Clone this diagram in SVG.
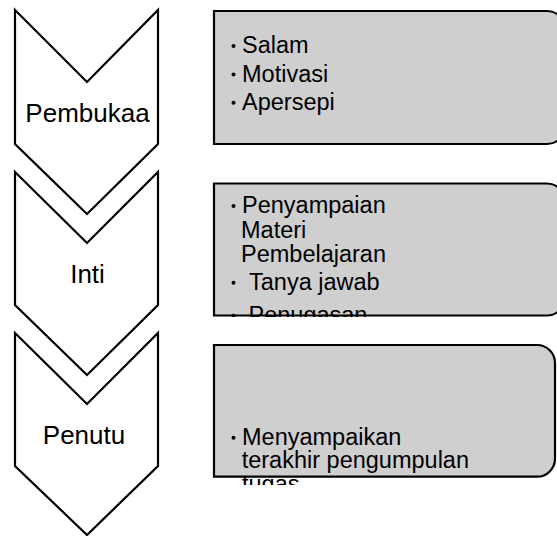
<svg xmlns="http://www.w3.org/2000/svg" width="557" height="536" viewBox="0 0 557 536">
<defs>
<style>
.chev{fill:#ffffff;stroke:#000000;stroke-width:2.2;stroke-linejoin:miter}
.box{fill:#cfcfcf;stroke:#000000;stroke-width:2.2}
.lbl{font-family:"Liberation Sans",Arial,sans-serif;font-size:26px;fill:#000;text-anchor:middle}
.txt{font-family:"Liberation Sans",Arial,sans-serif;font-size:23.5px;fill:#000}
.bul{fill:#000}
</style>
<clipPath id="clip2"><rect x="214" y="183" width="343" height="134"/></clipPath>
<clipPath id="clip3"><rect x="214" y="345" width="343" height="140"/></clipPath>
</defs>
<rect width="557" height="536" fill="#ffffff"/>
<g id="step1">
<polygon class="chev" points="15,10 87,82 158,10 158,144 87,214 15,144"/>
<text class="lbl" x="87.5" y="121.5">Pembukaa</text>
</g>
<g id="step2">
<polygon class="chev" points="15,172 87,243 158,172 158,305 87,375 15,305"/>
<text class="lbl" x="87.5" y="282.5">Inti</text>
</g>
<g id="step3">
<polygon class="chev" points="15,333 87,404 158,333 158,466 87,535 15,466"/>
<text class="lbl" x="84" y="444">Penutu</text>
</g>
<g id="box1">
<path class="box" d="M214,11 H547 A18,18 0 0 1 565,29 V126 A18,18 0 0 1 547,144 H214 Z"/>
<circle class="bul" cx="233.5" cy="46" r="2"/>
<text class="txt" x="242" y="53.3">Salam</text>
<circle class="bul" cx="233.5" cy="74.4" r="2"/>
<text class="txt" x="242" y="81.7">Motivasi</text>
<circle class="bul" cx="233.5" cy="102.7" r="2"/>
<text class="txt" x="242" y="110">Apersepi</text>
</g>
<g id="box2">
<path class="box" d="M214,183.5 H547 A18,18 0 0 1 565,201.5 V297.5 A18,18 0 0 1 547,315.5 H214 Z"/>
<g clip-path="url(#clip2)">
<circle class="bul" cx="233.5" cy="206" r="2"/>
<text class="txt" x="242" y="213.3">Penyampaian</text>
<text class="txt" x="241" y="238.3">Materi</text>
<text class="txt" x="241" y="261.7">Pembelajaran</text>
<circle class="bul" cx="233.5" cy="282.7" r="2"/>
<text class="txt" x="249" y="290">Tanya jawab</text>
<circle class="bul" cx="233.5" cy="315.7" r="2"/>
<text class="txt" x="248.5" y="323">Penugasan</text>
</g>
</g>
<g id="box3">
<path class="box" d="M214,345 H537 A18,18 0 0 1 555,363 V458.7 A18,18 0 0 1 537,476.7 H214 Z"/>
<g clip-path="url(#clip3)">
<circle class="bul" cx="233.5" cy="437.7" r="2"/>
<text class="txt" x="242" y="445">Menyampaikan</text>
<text class="txt" x="241.7" y="468.3">terakhir pengumpulan</text>
<text class="txt" x="242" y="491.6">tugas</text>
</g>
</g>
<g id="connectors"></g>
</svg>
